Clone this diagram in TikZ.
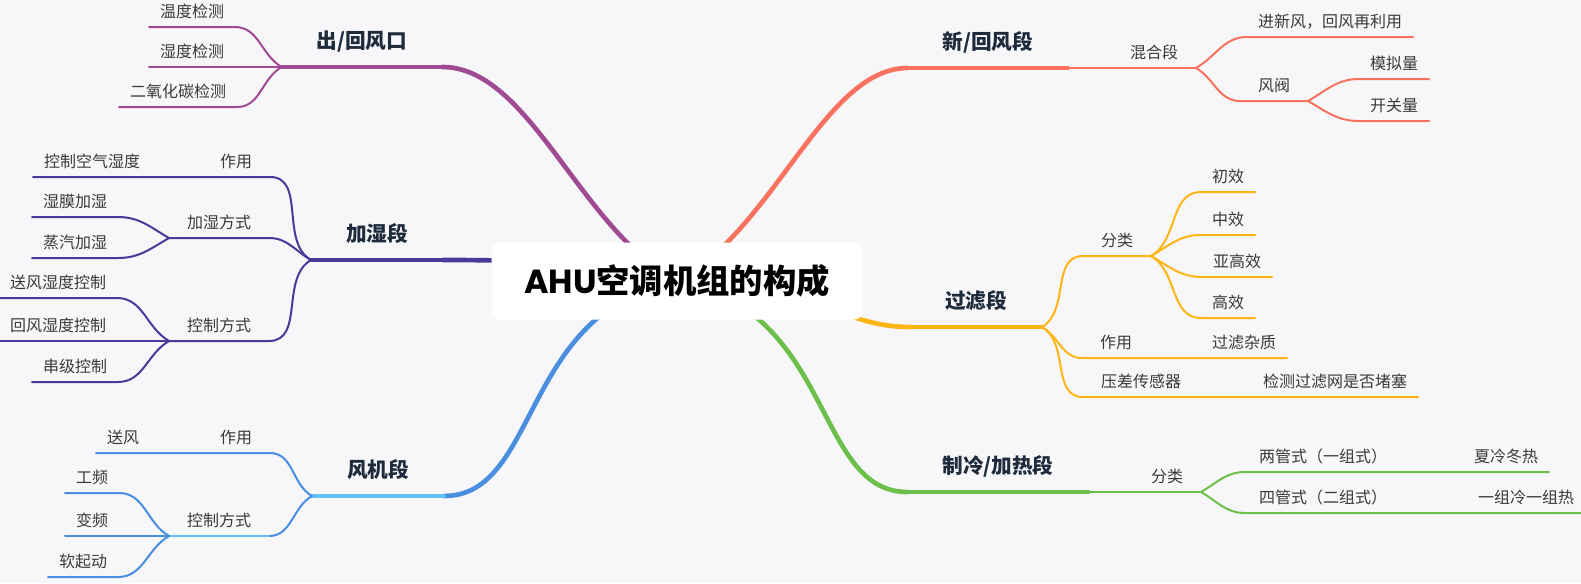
\documentclass[tikz,border=0pt]{standalone}
\usepackage{fontspec}
\setmainfont{Noto Sans CJK SC}
\newfontfamily\rootlatin{Poppins}
\usepackage{tikz}
\usetikzlibrary{backgrounds}

\definecolor{bgcol}{HTML}{F7F7FA}
\definecolor{leafgray}{HTML}{3A3A3A}
\definecolor{headnavy}{HTML}{1E2B3C}
\definecolor{cpurple}{HTML}{A04A94}
\definecolor{cindigo}{HTML}{4C3899}
\definecolor{cblue}{HTML}{4A8EDF}
\definecolor{ccyan}{HTML}{60C2F6}
\definecolor{cred}{HTML}{F8725F}
\definecolor{corange}{HTML}{FDB515}
\definecolor{cgreen}{HTML}{6CC04A}

\begin{document}
\begin{tikzpicture}[x=0.75pt,y=0.75pt,
  leafnode/.style={anchor=south,outer sep=0pt,inner xsep=8.25pt,inner ysep=0pt,text height=9pt,text depth=7.1pt,text=leafgray,font=\fontsize{12}{14}\selectfont},
  subnode/.style={leafnode,inner xsep=13.5pt},
  mainnode/.style={anchor=south,outer sep=0pt,inner xsep=26.25pt,inner ysep=0pt,text height=12pt,text depth=14pt,text=headnavy,font=\bfseries\fontsize{15.5}{18}\selectfont},
  rootbox/.style={fill=white,rounded corners=6pt,minimum width=278.25pt,minimum height=57.75pt,inner sep=0pt,font=\bfseries\fontsize{25}{30}\selectfont},
  trunk/.style={line width=3.5pt,line cap=round},
  limb/.style={line width=2.4pt,line cap=round},
  twig/.style={line width=1.5pt,line cap=round}]
\useasboundingbox (0,0) rectangle (1581,-583);

\node[rootbox] (ahu) at (677,-281) {{\rootlatin AHU}空调机组的构成};

% left: outlet
\node[mainnode] (outlet) at (362,-67) {出/回风口};
\node[leafnode] (ot1) at (192,-27) {温度检测};
\node[leafnode] (ot2) at (192,-67) {湿度检测};
\node[leafnode] (ot3) at (178,-107) {二氧化碳检测};

% left: humidify
\node[mainnode] (humid) at (377,-260) {加湿段};
\node[subnode] (hu1) at (236,-177) {作用};
\node[leafnode] (hu11) at (92,-177) {控制空气湿度};
\node[subnode] (hu2) at (219,-238) {加湿方式};
\node[leafnode] (hu21) at (75,-217) {湿膜加湿};
\node[leafnode] (hu22) at (75,-258) {蒸汽加湿};
\node[subnode] (hu3) at (219,-341) {控制方式};
\node[leafnode] (hu31) at (58,-298) {送风湿度控制};
\node[leafnode] (hu32) at (58,-341) {回风湿度控制};
\node[leafnode] (hu33) at (75,-382) {串级控制};

% left: fan
\node[mainnode] (fan) at (378,-496) {风机段};
\node[subnode] (fa1) at (236,-453) {作用};
\node[leafnode] (fa11) at (123,-453) {送风};
\node[subnode] (fa2) at (219,-536) {控制方式};
\node[leafnode] (fa21) at (92,-493) {工频};
\node[leafnode] (fa22) at (92,-536) {变频};
\node[leafnode] (fa23) at (83,-577) {软起动};

% right: fresh air
\node[mainnode] (fresh) at (988,-68) {新/回风段};
\node[subnode] (fr1) at (1154,-68) {混合段};
\node[leafnode] (fr11) at (1330,-37) {进新风，回风再利用};
\node[subnode] (fr12) at (1274,-101) {风阀};
\node[leafnode] (fr121) at (1394,-79) {模拟量};
\node[leafnode] (fr122) at (1394,-121) {开关量};

% right: filter
\node[mainnode] (filter) at (976,-327) {过滤段};
\node[subnode] (fi1) at (1117,-256) {分类};
\node[leafnode] (fi11) at (1228,-192) {初效};
\node[leafnode] (fi12) at (1228,-235) {中效};
\node[leafnode] (fi13) at (1237,-277) {亚高效};
\node[leafnode] (fi14) at (1228,-318) {高效};
\node[subnode] (fi2) at (1116,-358) {作用};
\node[leafnode] (fi21) at (1244,-358) {过滤杂质};
\node[subnode] (fi3) at (1141,-397) {压差传感器};
\node[leafnode] (fi31) at (1335,-397) {检测过滤网是否堵塞};

% right: cooling / heating
\node[mainnode] (cool) at (998,-492) {制冷/加热段};
\node[subnode] (co1) at (1167,-492) {分类};
\node[subnode,inner xsep=10.5pt] (co11) at (1323,-472) {两管式（一组式）};
\node[leafnode] (co111) at (1506,-472) {夏冷冬热};
\node[subnode,inner xsep=10.5pt] (co12) at (1323,-513) {四管式（二组式）};
\node[leafnode] (co121) at (1526,-513) {一组冷一组热};

\begin{scope}[on background layer]
\fill[bgcol] (0,0) rectangle (1581,-583);

% outlet
\draw[cpurple,trunk] (ahu.center) .. controls (580,-230) and (530,-67) .. (outlet.south east);
\draw[cpurple,limb] (outlet.south east) -- (outlet.south west);
\draw[cpurple,twig] (outlet.south west) to[out=150,in=0] (ot1.south east) -- (ot1.south west);
\draw[cpurple,twig] (outlet.south west) -- (ot2.south east) -- (ot2.south west);
\draw[cpurple,twig] (outlet.south west) to[out=210,in=0] (ot3.south east) -- (ot3.south west);

% humidify
\draw[cindigo,trunk] (ahu.center) .. controls (600,-262) and (520,-260) .. (humid.south east);
\draw[cindigo,limb] (humid.south east) -- (humid.south west);
\draw[cindigo,twig] (humid.south west) to[out=150,in=0] (hu1.south east) -- (hu1.south west) -- (hu11.south east) -- (hu11.south west);
\draw[cindigo,twig] (humid.south west) to[out=150,in=0] (hu2.south east) -- (hu2.south west);
\draw[cindigo,twig] (hu2.south west) to[out=150,in=0] (hu21.south east) -- (hu21.south west);
\draw[cindigo,twig] (hu2.south west) to[out=210,in=0] (hu22.south east) -- (hu22.south west);
\draw[cindigo,twig] (humid.south west) to[out=210,in=0] (hu3.south east) -- (hu3.south west);
\draw[cindigo,twig] (hu3.south west) to[out=150,in=0] (hu31.south east) -- (hu31.south west);
\draw[cindigo,twig] (hu3.south west) -- (hu32.south east) -- (hu32.south west);
\draw[cindigo,twig] (hu3.south west) to[out=210,in=0] (hu33.south east) -- (hu33.south west);

% fan
\draw[cblue,trunk] (ahu.center) .. controls (520,-310) and (540,-496) .. (fan.south east);
\draw[ccyan,limb] (fan.south east) -- (fan.south west);
\draw[cblue,twig] (fan.south west) to[out=150,in=0] (fa1.south east) -- (fa1.south west) -- (fa11.south east) -- (fa11.south west);
\draw[cblue,twig] (fan.south west) to[out=210,in=0] (fa2.south east);
\draw[ccyan,twig] (fa2.south east) -- (fa2.south west);
\draw[cblue,twig] (fa2.south west) to[out=150,in=0] (fa21.south east) -- (fa21.south west);
\draw[cblue,twig] (fa2.south west) -- (fa22.south east) -- (fa22.south west);
\draw[cblue,twig] (fa2.south west) to[out=210,in=0] (fa23.south east) -- (fa23.south west);

% fresh air
\draw[cred,trunk] (ahu.center) .. controls (774,-230) and (824,-68) .. (fresh.south west);
\draw[cred,limb] (fresh.south west) -- (fresh.south east);
\draw[cred,twig] (fresh.south east) -- (fr1.south west) -- (fr1.south east);
\draw[cred,twig] (fr1.south east) to[out=30,in=180] (fr11.south west) -- (fr11.south east);
\draw[cred,twig] (fr1.south east) to[out=330,in=180] (fr12.south west) -- (fr12.south east);
\draw[cred,twig] (fr12.south east) to[out=30,in=180] (fr121.south west) -- (fr121.south east);
\draw[cred,twig] (fr12.south east) to[out=330,in=180] (fr122.south west) -- (fr122.south east);

% filter
\draw[corange,trunk] (ahu.center) .. controls (820,-285) and (840,-327) .. (filter.south west);
\draw[corange,limb] (filter.south west) -- (filter.south east);
\draw[corange,twig] (filter.south east) to[out=30,in=180] (fi1.south west) -- (fi1.south east);
\draw[corange,twig] (fi1.south east) to[out=30,in=180] (fi11.south west) -- (fi11.south east);
\draw[corange,twig] (fi1.south east) to[out=30,in=180] (fi12.south west) -- (fi12.south east);
\draw[corange,twig] (fi1.south east) to[out=330,in=180] (fi13.south west) -- (fi13.south east);
\draw[corange,twig] (fi1.south east) to[out=330,in=180] (fi14.south west) -- (fi14.south east);
\draw[corange,twig] (filter.south east) to[out=330,in=180] (fi2.south west) -- (fi2.south east) -- (fi21.south west) -- (fi21.south east);
\draw[corange,twig] (filter.south east) to[out=330,in=180] (fi3.south west) -- (fi3.south east) -- (fi31.south west) -- (fi31.south east);

% cooling / heating
\draw[cgreen,trunk] (ahu.center) .. controls (834,-310) and (814,-492) .. (cool.south west);
\draw[cgreen,limb] (cool.south west) -- (cool.south east);
\draw[cgreen,twig] (cool.south east) -- (co1.south west) -- (co1.south east);
\draw[cgreen,twig] (co1.south east) to[out=30,in=180] (co11.south west) -- (co11.south east) -- (co111.south west) -- (co111.south east);
\draw[cgreen,twig] (co1.south east) to[out=330,in=180] (co12.south west) -- (co12.south east) -- (co121.south west) -- (co121.south east);
\end{scope}
\end{tikzpicture}
\end{document}
